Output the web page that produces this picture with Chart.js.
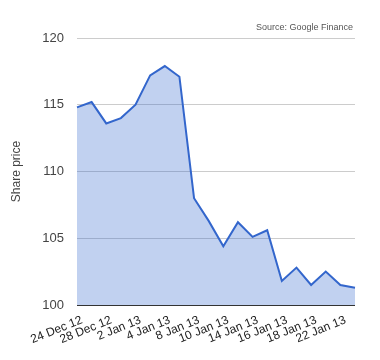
<!DOCTYPE html>
<html>
<head>
<meta charset="utf-8">
<script src="https://cdn.jsdelivr.net/npm/chart.js@4/dist/chart.umd.min.js"></script>
<style>
  html, body { margin: 0; padding: 0; background: #fff; }
  #wrap { width: 380px; height: 360px; position: relative; }
</style>
</head>
<body>
<div id="wrap"><canvas id="priceChart"></canvas></div>
<script>
// Data
const dates = [
    '24 Dec 12', '26 Dec 12', '28 Dec 12', '31 Dec 12', '2 Jan 13',
    '3 Jan 13', '4 Jan 13', '7 Jan 13', '8 Jan 13', '9 Jan 13',
    '10 Jan 13', '11 Jan 13', '14 Jan 13', '15 Jan 13', '16 Jan 13',
    '17 Jan 13', '18 Jan 13', '21 Jan 13', '22 Jan 13', '23 Jan 13'
];
const sharePrice = [
    114.8, 115.2, 113.6, 114.0, 115.0,
    117.2, 117.9, 117.1, 108.0, 106.3,
    104.4, 106.2, 105.1, 105.6, 101.8,
    102.8, 101.5, 102.5, 101.5, 101.3
];
const yTicks = [100, 105, 110, 115, 120];
const sourceNote = 'Source: Google Finance';

const FONT = '"Liberation Sans", Arial, sans-serif';

// Draws the small source note in the top right corner
const sourcePlugin = {
    id: 'sourceNote',
    afterDraw(chart) {
        const ctx = chart.ctx;
        ctx.save();
        ctx.font = '9px ' + FONT;
        ctx.fillStyle = '#555';
        ctx.textAlign = 'right';
        ctx.textBaseline = 'middle';
        ctx.fillText(sourceNote, chart.chartArea.right - 2, 28);
        ctx.restore();
    }
};

new Chart(document.getElementById('priceChart'), {
    type: 'line',
    data: {
        labels: dates,
        datasets: [{
            data: sharePrice,
            borderColor: '#3366cc',
            backgroundColor: 'rgba(51, 102, 204, 0.3)',
            borderWidth: 2,
            pointRadius: 0,
            tension: 0,
            fill: 'start'
        }]
    },
    options: {
        responsive: true,
        maintainAspectRatio: false,
        animation: false,
        layout: { padding: { top: 38, right: 25, left: 0, bottom: 0 } },
        plugins: {
            legend: { display: false },
            tooltip: { enabled: false }
        },
        scales: {
            x: {
                offset: false,
                grid: { display: false },
                border: { display: false },
                ticks: {
                    autoSkip: false,
                    maxRotation: 22,
                    minRotation: 22,
                    padding: 0,
                    labelOffset: 5,
                    color: '#222',
                    font: { family: FONT, size: 12 },
                    callback: (v, i) => (i % 2 === 0 ? dates[i] : '')
                },
                afterFit: (scale) => { scale.height = 55; }
            },
            y: {
                min: 100,
                max: 120,
                afterBuildTicks: (scale) => { scale.ticks = yTicks.map(v => ({ value: v })); },
                grid: {
                    color: (c) => (c.tick && c.tick.value === 100 ? '#333' : '#ccc'),
                    lineWidth: 1,
                    drawTicks: false
                },
                border: { display: false },
                ticks: {
                    padding: 13,
                    color: '#444',
                    font: { family: FONT, size: 13 }
                },
                title: {
                    display: true,
                    text: 'Share price',
                    color: '#444',
                    font: { family: FONT, size: 12 },
                    padding: { top: 9, bottom: 0 }
                },
                afterFit: (scale) => { scale.width = 77; }
            }
        }
    },
    plugins: [sourcePlugin]
});
</script>
</body>
</html>
